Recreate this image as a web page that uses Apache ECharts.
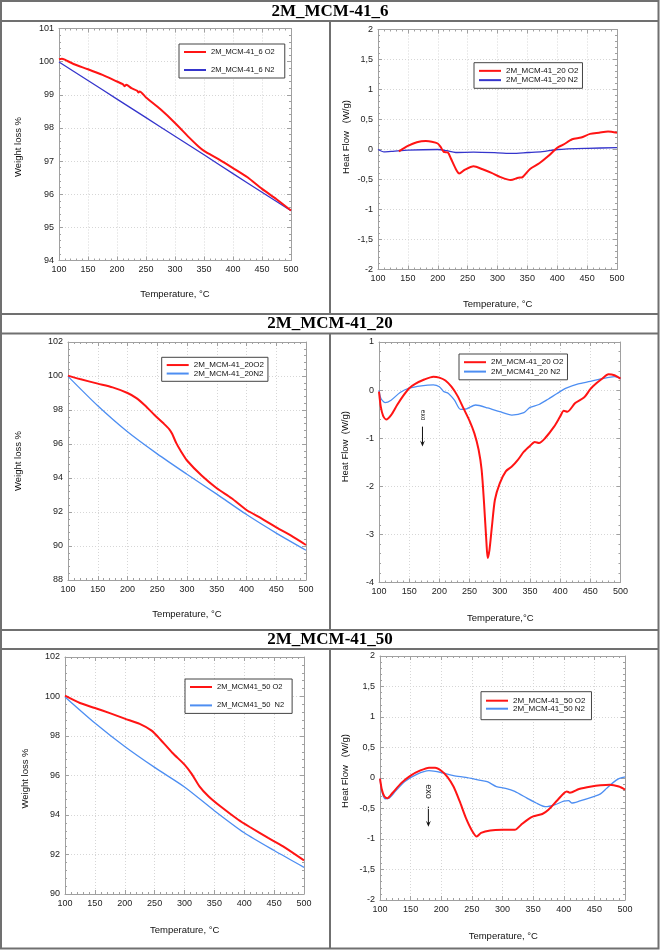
<!DOCTYPE html>
<html>
<head>
<meta charset="utf-8">
<script src="https://cdn.jsdelivr.net/npm/echarts@6/dist/echarts.min.js"></script>
<style>html,body{margin:0;padding:0;background:#fff;}#c{width:660px;height:951px;}</style>
</head>
<body>
<div id="c"></div>
<script>
// ---------------- DATA ----------------
const sectionTitles = ['2M_MCM-41_6', '2M_MCM-41_20', '2M_MCM-41_50'];
const xRange = [100, 500, 50];
const yRanges = [[94, 101, 1], [-2, 2, 0.5], [88, 102, 2], [-4, 1, 1], [90, 102, 2], [-2, 2, 0.5]];
const xTitles = ['Temperature, °C', 'Temperature, °C', 'Temperature, °C', 'Temperature,°C', 'Temperature, °C', 'Temperature, °C'];
const yTitles = ['Weight loss %', 'Heat Flow   (W/g)', 'Weight loss %', 'Heat Flow  (W/g)', 'Weight loss %', 'Heat Flow   (W/g)'];
const legendNames = [
  ['2M_MCM-41_6 O2', '2M_MCM-41_6 N2'],
  ['2M_MCM-41_20 O2', '2M_MCM-41_20 N2'],
  ['2M_MCM-41_20O2', '2M_MCM-41_20N2'],
  ['2M_MCM-41_20 O2', '2M_MCM41_20 N2'],
  ['2M_MCM41_50 O2', '2M_MCM41_50  N2'],
  ['2M_MCM-41_50 O2', '2M_MCM-41_50 N2']
];

// Panel 1: TGA 2M_MCM-41_6
const tga6_O2 = [[100,100.07],[105,100.09],[110,100.06],[125,99.93],[150,99.77],[175,99.6],[200,99.4],[210,99.32],[213,99.26],[216,99.3],[225,99.2],[235,99.12],[237,99.07],[239,99.1],[250,98.92],[275,98.56],[300,98.15],[325,97.7],[340,97.45],[350,97.31],[375,97.06],[400,96.79],[425,96.51],[450,96.16],[475,95.85],[500,95.51]];
const tga6_N2 = [[100,99.99],[150,99.43],[200,98.87],[250,98.31],[300,97.75],[350,97.19],[400,96.62],[450,96.06],[500,95.5]];
// Panel 2: DSC 2M_MCM-41_6
const dsc6_O2 = [[135,-0.03],[150,0.06],[165,0.12],[180,0.14],[190,0.13],[200,0.10],[205,0.04],[210,-0.04],[217,-0.05],[222,-0.15],[230,-0.32],[236,-0.40],[245,-0.34],[260,-0.28],[275,-0.33],[290,-0.39],[305,-0.46],[322,-0.51],[335,-0.47],[342,-0.46],[355,-0.32],[370,-0.23],[385,-0.11],[400,0.03],[410,0.08],[425,0.17],[440,0.20],[455,0.26],[470,0.28],[485,0.30],[500,0.28]];
const dsc6_N2 = [[100,0],[110,-0.04],[125,-0.03],[150,-0.01],[200,0],[215,-0.02],[230,-0.05],[260,-0.045],[300,-0.055],[325,-0.065],[350,-0.05],[375,-0.035],[400,0],[450,0.02],[500,0.03]];
// Panel 3: TGA 2M_MCM-41_20
const tga20_O2 = [[100,100.02],[120,99.82],[150,99.55],[175,99.33],[200,99.0],[215,98.7],[230,98.25],[245,97.72],[260,97.23],[270,96.88],[275,96.6],[282,96.05],[290,95.56],[300,95.03],[325,94.13],[350,93.4],[375,92.81],[400,92.12],[425,91.63],[450,91.1],[475,90.61],[500,90.06]];
const tga20_N2 = [[100,99.98],[150,98.25],[200,96.72],[250,95.42],[300,94.22],[350,93.05],[400,91.85],[450,90.76],[500,89.75]];
// Panel 4: DSC 2M_MCM-41_20
const dsc20_O2 = [[100,-0.03],[103,-0.35],[107,-0.54],[112,-0.61],[120,-0.52],[130,-0.31],[140,-0.12],[150,0.04],[160,0.13],[175,0.22],[190,0.28],[200,0.26],[210,0.2],[220,0.07],[230,-0.12],[240,-0.38],[250,-0.64],[258,-0.9],[265,-1.24],[270,-1.66],[274,-2.35],[278,-3.18],[280,-3.49],[283,-3.32],[287,-2.84],[292,-2.28],[300,-1.94],[310,-1.69],[320,-1.59],[330,-1.45],[340,-1.28],[350,-1.16],[358,-1.08],[365,-1.1],[375,-1.0],[390,-0.76],[400,-0.55],[406,-0.43],[412,-0.45],[425,-0.27],[440,-0.15],[450,0.02],[460,0.14],[470,0.24],[480,0.33],[490,0.31],[500,0.24]];
const dsc20_N2 = [[100,0],[103,-0.17],[110,-0.26],[120,-0.21],[135,-0.05],[150,0.04],[170,0.09],[190,0.11],[200,0.07],[207,-0.03],[215,-0.07],[225,-0.21],[235,-0.4],[245,-0.39],[260,-0.31],[280,-0.37],[300,-0.45],[320,-0.52],[340,-0.47],[350,-0.36],[365,-0.3],[380,-0.19],[395,-0.07],[410,0.04],[430,0.13],[450,0.18],[470,0.24],[490,0.28],[500,0.24]];
// Panel 5: TGA 2M_MCM-41_50
const tga50_O2 = [[100,100.04],[125,99.67],[150,99.42],[175,99.16],[200,98.88],[225,98.61],[245,98.27],[260,97.81],[280,97.14],[300,96.55],[312,96.08],[325,95.45],[340,94.95],[360,94.44],[390,93.76],[410,93.38],[440,92.84],[465,92.41],[500,91.7]];
const tga50_N2 = [[100,99.98],[150,98.66],[200,97.47],[250,96.41],[300,95.42],[350,94.22],[400,93.1],[450,92.2],[500,91.35]];
// Panel 6: DSC 2M_MCM-41_50
const dsc50_O2 = [[100,-0.01],[103,-0.19],[107,-0.3],[112,-0.33],[120,-0.25],[135,-0.08],[150,0.04],[165,0.12],[180,0.17],[190,0.17],[200,0.12],[210,0.02],[220,-0.14],[230,-0.38],[240,-0.65],[250,-0.86],[258,-0.96],[265,-0.9],[280,-0.86],[300,-0.85],[320,-0.85],[330,-0.77],[340,-0.69],[350,-0.63],[365,-0.59],[375,-0.52],[390,-0.36],[405,-0.22],[410,-0.24],[425,-0.18],[445,-0.14],[460,-0.12],[475,-0.11],[490,-0.14],[500,-0.19]];
const dsc50_N2 = [[100,-0.01],[103,-0.22],[108,-0.34],[115,-0.33],[125,-0.22],[140,-0.06],[160,0.06],[180,0.12],[200,0.09],[220,0.04],[240,0.01],[260,-0.03],[275,-0.06],[290,-0.14],[305,-0.17],[320,-0.22],[340,-0.33],[355,-0.41],[370,-0.47],[385,-0.44],[400,-0.38],[408,-0.37],[413,-0.41],[425,-0.38],[450,-0.3],[460,-0.26],[470,-0.17],[480,-0.08],[490,-0.01],[500,0.02]];

const seriesO2 = [tga6_O2, dsc6_O2, tga20_O2, dsc20_O2, tga50_O2, dsc50_O2];
const seriesN2 = [tga6_N2, dsc6_N2, tga20_N2, dsc20_N2, tga50_N2, dsc50_N2];
// exo annotations (panel index, x, text y, arrow from y, arrow to y, font size)
const exoNotes = [[3, 172, -0.52, -0.76, -1.17, 6.5], [5, 179, -0.22, -0.47, -0.80, 9]];

// ---------------- LAYOUT / STYLE ----------------
const grids = [
  {left:59, top:28.5, width:232, height:232},
  {left:378, top:29.5, width:239, height:240},
  {left:68, top:342, width:238, height:238},
  {left:379, top:342, width:241.5, height:240.5},
  {left:65, top:657, width:239, height:237},
  {left:380, top:656, width:245, height:244}
];
const xTitlePos = [[175,294],[497.7,304],[187,614.3],[500.3,618.3],[184.7,930],[503.3,936.7]];
const yTitlePos = [[18,147],[346,137],[18,461],[345.7,446.7],[25,778.5],[345.7,771]];
const legendCfg = [
  {left:179, top:44, pad:[3,10,3,5], gap:8, lh:10, fs:7.5},
  {left:474, top:62.7, pad:[3.5,4,3.5,5], gap:0, lh:9.3, fs:8},
  {left:161.7, top:357.3, pad:[3.5,4,3.5,5], gap:0, lh:8.5, fs:8},
  {left:459, top:354, pad:[3.5,4,3.5,5], gap:0, lh:9.4, fs:8},
  {left:185, top:679, pad:[3.5,8,3.5,5], gap:9.4, lh:9, fs:7.5},
  {left:481, top:691.7, pad:[5,6,7,5], gap:0, lh:7.8, fs:8}
];
const blueCols = ['#3535cc', '#3535cc', '#4d8ef2', '#4d8ef2', '#4d8ef2', '#4d8ef2'];
const RED = '#ff1414';
const FRAME = '#a0a0a0';
const SANS = 'Liberation Sans';

function fmt(v) { return String(v).replace('.', ','); }

const xAxes = [], yAxes = [], series = [], legends = [];
function axisBase(i, showLabels) {
  return {
    gridIndex: i, type: 'value',
    axisLine: {show: true, onZero: false, lineStyle: {color: FRAME, width: 1}},
    axisTick: {show: true, inside: true, length: 4, lineStyle: {color: FRAME}},
    minorTick: {show: true, splitNumber: 5, length: 2, lineStyle: {color: FRAME}},
    axisLabel: showLabels ? {show: true, fontSize: 9, fontFamily: SANS, color: '#222', margin: 5} : {show: false},
    splitLine: showLabels ? {show: true, lineStyle: {color: '#d6d6d6', type: [1, 2], width: 1}} : {show: false},
    minorSplitLine: {show: false}
  };
}
for (let i = 0; i < 6; i++) {
  const [ymin, ymax, yint] = yRanges[i];
  const xb = Object.assign(axisBase(i, true), {min: xRange[0], max: xRange[1], interval: xRange[2], position: 'bottom'});
  const yb = Object.assign(axisBase(i, true), {min: ymin, max: ymax, interval: yint, position: 'left'});
  if (i === 1 || i === 5) yb.axisLabel.formatter = fmt;
  xAxes.push(xb);
  yAxes.push(yb);
}
for (let i = 0; i < 6; i++) {
  const [ymin, ymax, yint] = yRanges[i];
  xAxes.push(Object.assign(axisBase(i, false), {min: xRange[0], max: xRange[1], interval: xRange[2], position: 'top'}));
  yAxes.push(Object.assign(axisBase(i, false), {min: ymin, max: ymax, interval: yint, position: 'right'}));
}
for (let i = 0; i < 6; i++) {
  series.push({
    name: legendNames[i][0], type: 'line', xAxisIndex: i, yAxisIndex: i,
    data: seriesO2[i], showSymbol: false, smooth: 0.25, z: 3,
    lineStyle: {color: RED, width: 2}, itemStyle: {color: RED}
  });
  series.push({
    name: legendNames[i][1], type: 'line', xAxisIndex: i, yAxisIndex: i,
    data: seriesN2[i], showSymbol: false, smooth: 0.25, z: 2,
    lineStyle: {color: blueCols[i], width: 1.3}, itemStyle: {color: blueCols[i]}
  });
  const lc = legendCfg[i];
  legends.push({
    data: [{name: legendNames[i][0], itemStyle: {color: RED}}, {name: legendNames[i][1], itemStyle: {color: blueCols[i]}}],
    orient: 'vertical', left: lc.left, top: lc.top, padding: lc.pad, itemGap: lc.gap,
    itemWidth: 22, itemHeight: 2, icon: 'rect', selectedMode: false,
    borderColor: '#444', borderWidth: 1, backgroundColor: '#fff',
    textStyle: {fontSize: lc.fs, fontFamily: SANS, color: '#111', lineHeight: lc.lh}
  });
}

const graphic = [];
const BC = '#707070';
graphic.push({type: 'rect', shape: {x: 1, y: 1, width: 657.5, height: 947.5}, style: {fill: null, stroke: BC, lineWidth: 2}, z: 10});
const hLines = [21, 314, 333.5, 630, 649];
hLines.forEach(y => graphic.push({type: 'line', shape: {x1: 1, y1: y, x2: 658.5, y2: y}, style: {stroke: BC, lineWidth: 2}, z: 10}));
[[21, 314], [333.5, 630], [649, 948.5]].forEach(([a, b]) => graphic.push({type: 'line', shape: {x1: 330, y1: a, x2: 330, y2: b}, style: {stroke: BC, lineWidth: 2}, z: 10}));
[11.5, 324, 639.7].forEach((y, k) => graphic.push({type: 'text', x: 330, y: y, style: {text: sectionTitles[k], font: 'bold 17px "Liberation Serif"', fill: '#000', textAlign: 'center', textVerticalAlign: 'middle'}, z: 10}));
for (let i = 0; i < 6; i++) {
  graphic.push({type: 'text', x: xTitlePos[i][0], y: xTitlePos[i][1], style: {text: xTitles[i], font: '9.5px "Liberation Sans"', fill: '#111', textAlign: 'center', textVerticalAlign: 'middle'}});
  graphic.push({type: 'text', x: yTitlePos[i][0], y: yTitlePos[i][1], rotation: Math.PI / 2, style: {text: yTitles[i], font: '9.5px "Liberation Sans"', fill: '#111', textAlign: 'center', textVerticalAlign: 'middle'}});
}

const chart = echarts.init(document.getElementById('c'), null, {renderer: 'canvas', width: 660, height: 951});
chart.setOption({
  animation: false, backgroundColor: '#fff',
  grid: grids.map(g => Object.assign({containLabel: false}, g)),
  xAxis: xAxes, yAxis: yAxes, legend: legends, series: series, graphic: graphic
});

// exo annotations positioned through the axes
exoNotes.forEach(([p, x, ty, y1, y2, fs]) => {
  const f = {xAxisIndex: p, yAxisIndex: p};
  const t = chart.convertToPixel(f, [x, ty]);
  const a = chart.convertToPixel(f, [x, y1]);
  const b = chart.convertToPixel(f, [x, y2]);
  graphic.push({type: 'text', x: t[0], y: t[1], rotation: -Math.PI / 2, style: {text: 'exo', font: fs + 'px "Liberation Sans"', fill: '#111', textAlign: 'center', textVerticalAlign: 'middle'}});
  graphic.push({type: 'line', shape: {x1: a[0], y1: a[1], x2: b[0], y2: b[1] - 2}, style: {stroke: '#111', lineWidth: 1}});
  graphic.push({type: 'polygon', shape: {points: [[b[0] - 2.5, b[1] - 6], [b[0], b[1] - 3.5], [b[0] + 2.5, b[1] - 6], [b[0], b[1]]]}, style: {fill: '#111'}});
});
chart.setOption({graphic: graphic});
</script>
</body>
</html>
